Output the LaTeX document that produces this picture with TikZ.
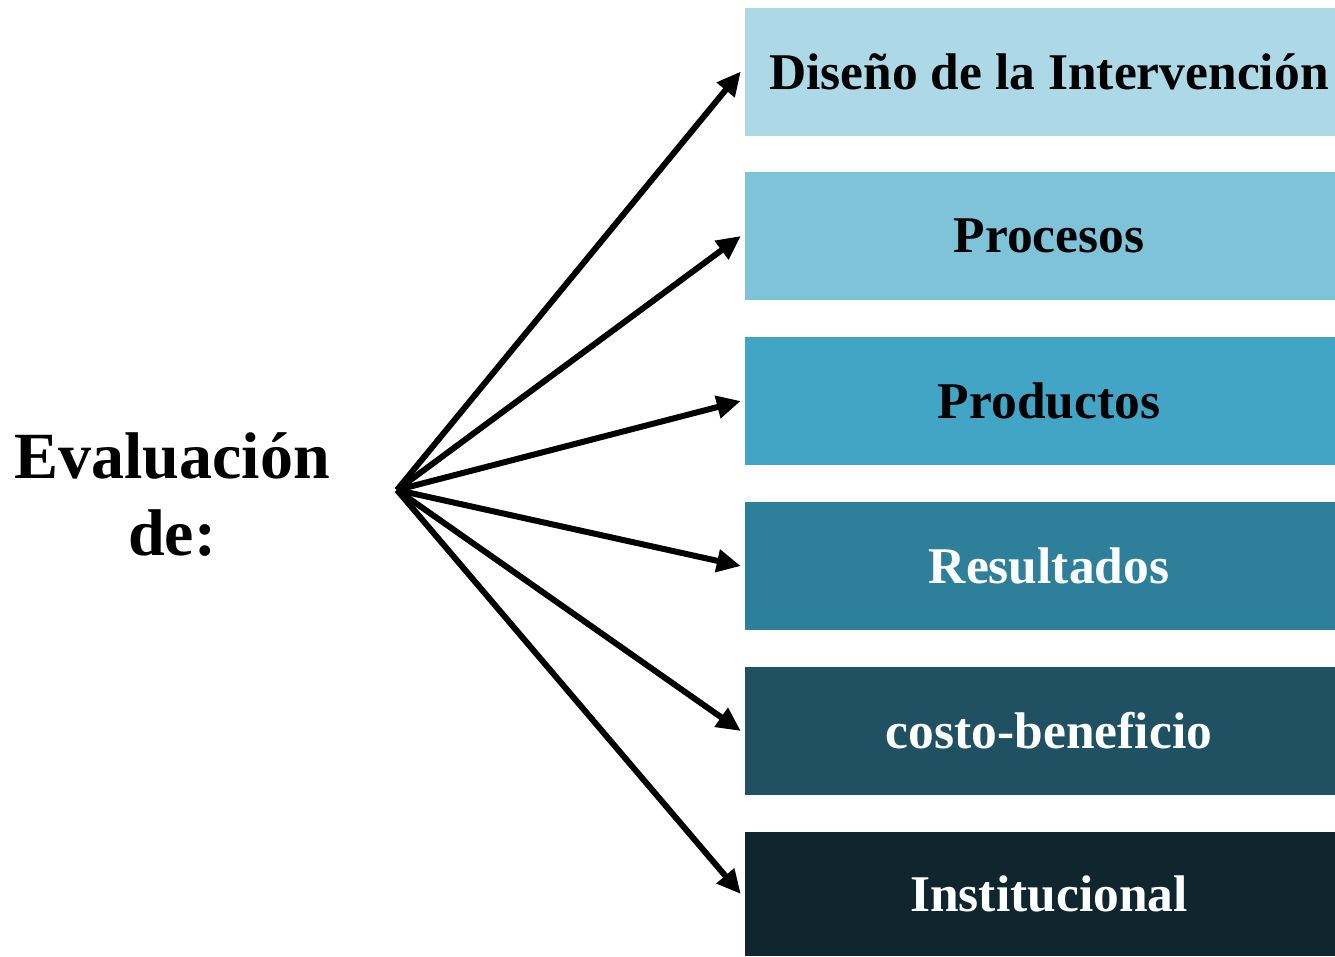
\documentclass[tikz,border=0pt]{standalone}
\usepackage{fontspec}
\setmainfont{Liberation Serif}
\usetikzlibrary{arrows.meta}
\definecolor{c1}{RGB}{173,216,230}
\definecolor{c2}{RGB}{126,195,216}
\definecolor{c3}{RGB}{66,165,198}
\definecolor{c4}{RGB}{46,127,153}
\definecolor{c5}{RGB}{31,81,99}
\definecolor{c6}{RGB}{15,38,46}
\tikzset{
  item/.style={rectangle, minimum width=590pt, minimum height=128pt, inner sep=0pt,
    font=\fontsize{51.5}{60}\selectfont\bfseries, execute at begin node={\hspace*{18pt}}},
  conn/.style={line width=6pt, -{Triangle[length=24pt,width=22pt]}}
}
\begin{document}
\begin{tikzpicture}[x=1pt,y=-1pt]
\useasboundingbox (0,0) rectangle (1335,956);
\node[item, fill=c1, text=black] (b1) at (1040,71.5) {Diseño de la Intervención};
\node[item, fill=c2, text=black] (b2) at (1040,236) {Procesos};
\node[item, fill=c3, text=black] (b3) at (1040,401) {Productos};
\node[item, fill=c4, text=white] (b4) at (1040,566) {Resultados};
\node[item, fill=c5, text=white] (b5) at (1040,731) {costo-beneficio};
\node[item, fill=c6, text=white, minimum height=124pt] (b6) at (1040,894) {Institucional};
\node[align=center, font=\fontsize{66}{77}\selectfont\bfseries, inner sep=0pt] (t) at (172,495) {Evaluación\\de:};
\coordinate (o) at (397,490);
\foreach \b in {b1,b2,b3,b4,b5,b6}{
  \draw[conn] (o) -- ([xshift=-4pt]\b.west);
}
\end{tikzpicture}
\end{document}
